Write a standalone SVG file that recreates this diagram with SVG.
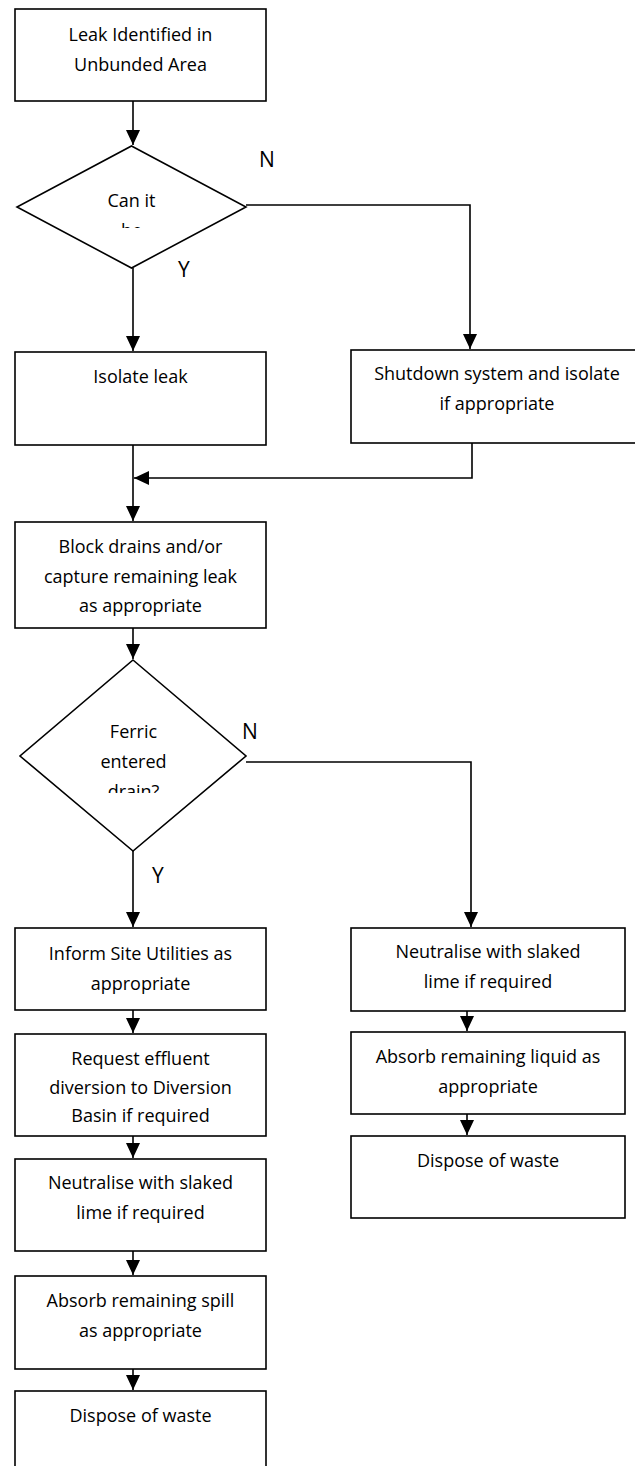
<svg xmlns="http://www.w3.org/2000/svg" width="635" height="1466" viewBox="0 0 635 1466">
  <style>
    .box { fill: #ffffff; stroke: #000000; stroke-width: 1.6; }
    .line { fill: none; stroke: #000000; stroke-width: 1.6; }
    .t { font-family: "Open Sans", "Liberation Sans", sans-serif; font-size: 18px; fill: #000000; text-anchor: middle; }
    .lbl { font-family: "Open Sans", "Liberation Sans", sans-serif; font-size: 21px; fill: #000000; }
  </style>
  <defs>
    <marker id="arrow" markerUnits="userSpaceOnUse" markerWidth="16" markerHeight="16" viewBox="0 0 16 16" refX="15" refY="8" orient="auto">
      <path d="M0,1 L15,8 L0,15 Z" fill="#000000"/>
    </marker>
    <clipPath id="clipD1"><rect x="60" y="180" width="145" height="48"/></clipPath>
    <clipPath id="clipD2"><rect x="60" y="710" width="145" height="83"/></clipPath>
  </defs>
  <rect width="635" height="1466" fill="#ffffff"/>

  <!-- connectors -->
  <g id="connectors">
    <path class="line" d="M133,101 V145" marker-end="url(#arrow)"/>
    <path class="line" d="M133,268 V351" marker-end="url(#arrow)"/>
    <path class="line" d="M246,205 H470 V349" marker-end="url(#arrow)"/>
    <path class="line" d="M133,445 V521" marker-end="url(#arrow)"/>
    <path class="line" d="M472,443 V478 H134" marker-end="url(#arrow)"/>
    <path class="line" d="M133,628 V659" marker-end="url(#arrow)"/>
    <path class="line" d="M246,762 H471 V927" marker-end="url(#arrow)"/>
    <path class="line" d="M133,851 V927" marker-end="url(#arrow)"/>
    <path class="line" d="M133,1010 V1033" marker-end="url(#arrow)"/>
    <path class="line" d="M133,1136 V1158" marker-end="url(#arrow)"/>
    <path class="line" d="M133,1251 V1275" marker-end="url(#arrow)"/>
    <path class="line" d="M133,1369 V1390" marker-end="url(#arrow)"/>
    <path class="line" d="M467,1011 V1031" marker-end="url(#arrow)"/>
    <path class="line" d="M467,1114 V1135" marker-end="url(#arrow)"/>
  </g>

  <!-- branch labels -->
  <g id="labels">
    <text class="lbl" x="259" y="167">N</text>
    <text class="lbl" x="178" y="277">Y</text>
    <text class="lbl" x="242" y="739">N</text>
    <text class="lbl" x="152" y="883">Y</text>
  </g>

  <g id="start">
    <rect class="box" x="15" y="9" width="251" height="92"/>
    <text class="t" x="140.5" y="41">Leak Identified in</text>
    <text class="t" x="140.5" y="71">Unbunded Area</text>
  </g>

  <g id="decision-contain">
    <polygon class="box" points="131.5,146 246,207 131.5,268 17,207"/>
    <g clip-path="url(#clipD1)">
      <text class="t" x="131.5" y="207">Can it</text>
      <text class="t" x="131.5" y="237">be</text>
    </g>
  </g>

  <g id="isolate">
    <rect class="box" x="15" y="352" width="251" height="93"/>
    <text class="t" x="140.5" y="383">Isolate leak</text>
  </g>

  <g id="shutdown">
    <rect class="box" x="351" y="350" width="292" height="93"/>
    <text class="t" x="497" y="380">Shutdown system and isolate</text>
    <text class="t" x="497" y="410">if appropriate</text>
  </g>

  <g id="block-drains">
    <rect class="box" x="15" y="522" width="251" height="106"/>
    <text class="t" x="140.5" y="553">Block drains and/or</text>
    <text class="t" x="140.5" y="583">capture remaining leak</text>
    <text class="t" x="140.5" y="612">as appropriate</text>
  </g>

  <g id="decision-drain">
    <polygon class="box" points="133,660 246,756 133,851 20,756"/>
    <g clip-path="url(#clipD2)">
      <text class="t" x="133.5" y="738">Ferric</text>
      <text class="t" x="133.5" y="768">entered</text>
      <text class="t" x="133.5" y="798">drain?</text>
    </g>
  </g>

  <g id="inform">
    <rect class="box" x="15" y="928" width="251" height="82"/>
    <text class="t" x="140.5" y="960">Inform Site Utilities as</text>
    <text class="t" x="140.5" y="990">appropriate</text>
  </g>

  <g id="request-diversion">
    <rect class="box" x="15" y="1034" width="251" height="102"/>
    <text class="t" x="140.5" y="1065">Request effluent</text>
    <text class="t" x="140.5" y="1094">diversion to Diversion</text>
    <text class="t" x="140.5" y="1122">Basin if required</text>
  </g>

  <g id="neutralise-left">
    <rect class="box" x="15" y="1159" width="251" height="92"/>
    <text class="t" x="140.5" y="1189">Neutralise with slaked</text>
    <text class="t" x="140.5" y="1219">lime if required</text>
  </g>

  <g id="absorb-left">
    <rect class="box" x="15" y="1276" width="251" height="93"/>
    <text class="t" x="140.5" y="1307">Absorb remaining spill</text>
    <text class="t" x="140.5" y="1337">as appropriate</text>
  </g>

  <g id="dispose-left">
    <rect class="box" x="15" y="1391" width="251" height="90"/>
    <text class="t" x="140.5" y="1422">Dispose of waste</text>
  </g>

  <g id="neutralise-right">
    <rect class="box" x="351" y="928" width="274" height="83"/>
    <text class="t" x="488" y="958">Neutralise with slaked</text>
    <text class="t" x="488" y="988">lime if required</text>
  </g>

  <g id="absorb-right">
    <rect class="box" x="351" y="1032" width="274" height="82"/>
    <text class="t" x="488" y="1063">Absorb remaining liquid as</text>
    <text class="t" x="488" y="1093">appropriate</text>
  </g>

  <g id="dispose-right">
    <rect class="box" x="351" y="1136" width="274" height="82"/>
    <text class="t" x="488" y="1167">Dispose of waste</text>
  </g>
</svg>
